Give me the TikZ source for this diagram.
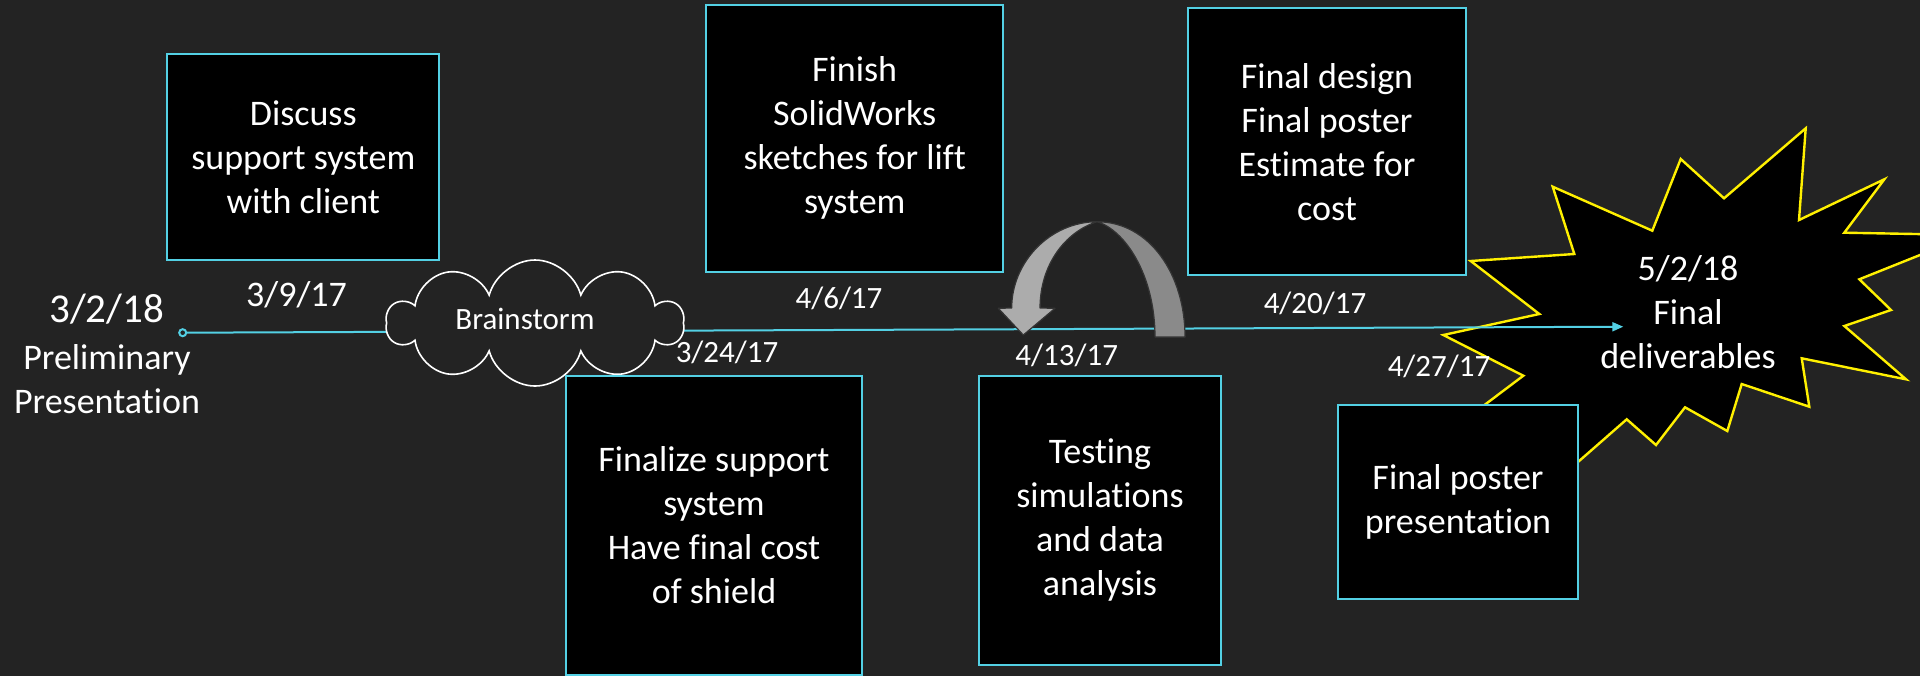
\documentclass[tikz,border=0pt]{standalone}
\usepackage{fontspec}
\setmainfont{Carlito}[Ligatures={TeX,NoCommon}]
\usetikzlibrary{shapes.symbols,arrows.meta}
\definecolor{slideBack}{RGB}{35,35,35}
\definecolor{boxCyan}{RGB}{83,208,228}
\definecolor{burstYellow}{RGB}{255,240,0}
\definecolor{arrowLight}{RGB}{172,172,172}
\definecolor{arrowDark}{RGB}{138,138,138}
\definecolor{arrowEdge}{RGB}{52,52,52}
\newcommand\colorTimeline{boxCyan}
\newcommand\colorBurst{burstYellow}
\newcommand\boxFont{\fontsize{18}{22}\selectfont}
\newcommand\dateFont{\fontsize{15.5}{19}\selectfont}
\tikzset{
	taskBox/.style={draw=boxCyan, line width=1pt, fill=black, text=white, align=center, inner sep=0pt, font=\boxFont},
	dateLabel/.style={text=white, anchor=base, inner sep=0pt, font=\dateFont},
	uTurn/.style={draw=arrowEdge, line width=0.6pt, line join=round},
}

\begin{document}
\begin{tikzpicture}[x=0.5pt,y=-0.5pt]
	\clip (0,0) rectangle (1920,676);
	\fill[slideBack] (0,0) rectangle (1920,676);
	
	% starburst for the last milestone
	\draw[\colorBurst, line width=1.2pt, fill=black, line join=miter]
	(1805.7,128.3) -- (1799,220) -- (1884.3,179.3) -- (1844.3,232.7) --
	(1970,235) -- (1859.3,279.3) -- (1891,310) -- (1844.3,326) --
	(1906,379.3) -- (1801.7,358.3) -- (1809.3,406.7) -- (1741.7,384) --
	(1727.3,431) -- (1685,407.3) -- (1656,445) -- (1626.7,419.3) --
	(1563.8,474.4) -- (1530,440) -- (1468.4,417.1) -- (1523.3,375.7) --
	(1443.3,335) -- (1539.3,314) -- (1470.7,261) -- (1574.3,254) --
	(1552.7,186.7) -- (1652.3,230.7) -- (1680.7,159) -- (1724,198.3) -- cycle;
	\node[text=white, align=center, inner sep=0pt, font=\boxFont] (finalDeliv) at (1688,312) {5/2/18\\Final\\deliverables};
	
	% timeline
	\node[circle, draw=\colorTimeline, line width=1pt, inner sep=0pt, minimum size=3.5pt] (startDot) at (182.7,332.7) {};
	\coordinate (timelineEnd) at (1623.3,326.7);
	\draw[\colorTimeline, line width=1pt, -{Triangle[length=5.5pt,width=4.5pt]}] (startDot) -- (timelineEnd);
	
	\node[cloud, draw=white, fill=slideBack, line width=0.8pt, cloud puffs=10, aspect=2.3,
	minimum width=148pt, minimum height=63pt, inner sep=0pt] (brainstorm) at (535,323) {};
	\node[dateLabel] (brainstormText) at (525,329) {Brainstorm};
	
	% loop-back arrow
	\filldraw[uTurn, fill=arrowDark]
	(1185,337) .. controls (1185,275) and (1150,222) .. (1097,221.7)
	.. controls (1125,230) and (1155,275) .. (1155,337) -- cycle;
	\filldraw[uTurn, fill=arrowLight]
	(1097,221.7) .. controls (1050,222) and (1011.7,262) .. (1011.7,308) --
	(998.3,308.3) -- (1023.3,335) -- (1055,308.3) -- (1040,308)
	.. controls (1040,265) and (1065,232) .. (1097,221.7) -- cycle;
	
	% tasks
	\node[taskBox, minimum width=136pt, minimum height=102.8pt] (taskClient) at (303.3,157.2) {Discuss\\support system\\with client};
	\node[taskBox, minimum width=148.6pt, minimum height=133.3pt] (taskSketch) at (854.7,138.3) {Finish\\SolidWorks\\sketches for lift\\system};
	\node[taskBox, minimum width=138.7pt, minimum height=133.3pt] (taskDesign) at (1327,141.7) {Final design\\Final poster\\Estimate for\\cost};
	\node[taskBox, minimum width=148.3pt, minimum height=149.4pt] (taskSupport) at (714,525.1) {Finalize support\\system\\Have final cost\\of shield};
	\node[taskBox, minimum width=120.7pt, minimum height=144.6pt] (taskTesting) at (1100,520.4) {Testing\\simulations\\and data\\analysis};
	\node[taskBox, minimum width=120.3pt, minimum height=97.2pt] (taskPoster) at (1458,502.2) {Final poster\\presentation};
	
	% dates
	\node[text=white, anchor=base, inner sep=0pt, font=\fontsize{20.5}{24}\selectfont] (startDate) at (106.7,322.7) {3/2/18};
	\node[text=white, align=center, inner sep=0pt, font=\boxFont] (startName) at (107,379) {Preliminary\\Presentation};
	\node[dateLabel, font=\boxFont] (dateClient) at (296.5,306.7) {3/9/17};
	\node[dateLabel] (dateSupport) at (727,362) {3/24/17};
	\node[dateLabel] (dateSketch) at (839,308.3) {4/6/17};
	\node[dateLabel] (dateTesting) at (1066.7,365) {4/13/17};
	\node[dateLabel] (dateDesign) at (1315,313) {4/20/17};
	\node[dateLabel] (datePoster) at (1439,376) {4/27/17};
\end{tikzpicture}
\end{document}
